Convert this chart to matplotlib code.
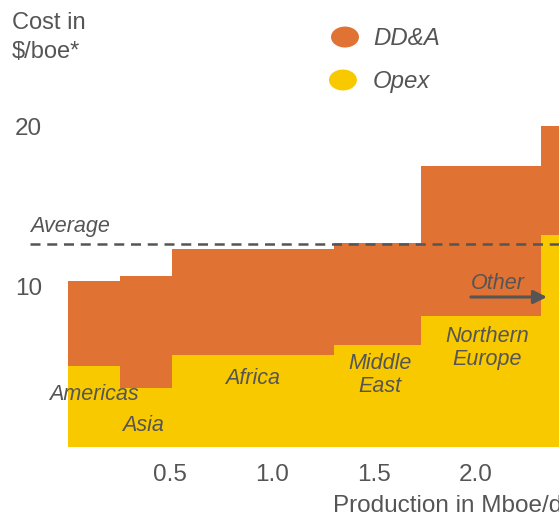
import numpy as np
import matplotlib.pyplot as plt
from matplotlib.patches import Ellipse

plt.rcParams['font.family'] = ['Liberation Sans', 'DejaVu Sans']

# regional cost curve: width = production, height = cost per boe
regions = ["Americas", "Asia", "Africa", "Middle\nEast", "Northern\nEurope", "Other"]
production = [0.255, 0.255, 0.794, 0.426, 0.589, 0.12]
opex = [5.06, 3.7, 5.75, 6.37, 8.19, 13.25]
dda = [5.3, 7.0, 6.6, 6.4, 9.4, 6.8]
average = 12.7

xticks = [0.5, 1.0, 1.5, 2.0]
yticks = [10, 20]

orange = '#E07233'
yellow = '#F9C900'
grey = '#555555'

left = np.concatenate([[0], np.cumsum(production)[:-1]])

fig = plt.figure(figsize=(5.59, 5.16), dpi=100)
ax = fig.add_axes([0, 0, 1, 1])
ax.set_xlim(-0.333, 2.407)
ax.set_ylim(-4.3125, 27.94)
ax.axis('off')

ax.bar(left, opex, width=production, align='edge', color=yellow, linewidth=0)
ax.bar(left, dda, width=production, bottom=opex, align='edge', color=orange, linewidth=0)

# average cost line
ax.plot([-0.186, 2.41], [average, average], color=grey, lw=1.8,
        dashes=(4, 2.7), zorder=3)
ax.text(-0.186, 13.44, "Average", style='italic', fontsize=15.5, color=grey)

# axis texts
for t in xticks:
    ax.text(t, -2.125, f"{t:.1f}", ha='center', va='baseline', fontsize=17.5, color=grey)
for t in yticks:
    ax.text(-0.26, t - 0.5, str(t), ha='left', va='baseline', fontsize=17.5, color=grey)
ax.text(-0.2745, 26.1, "Cost in", fontsize=17, color=grey, va='baseline')
ax.text(-0.2745, 24.3, "$/boe*", fontsize=17, color=grey, va='baseline')
ax.text(1.3, -4.06, "Production in Mboe/d", fontsize=17.5, color=grey, va='baseline')

# legend
ax.add_patch(Ellipse((1.358, 25.625), 0.137, 1.31, color=orange, lw=0))
ax.add_patch(Ellipse((1.348, 22.94), 0.137, 1.31, color=yellow, lw=0))
ax.text(1.495, 25.125, "DD&A", style='italic', fontsize=17.3, color=grey, va='baseline')
ax.text(1.495, 22.44, "Opex", style='italic', fontsize=17.3, color=grey, va='baseline')

# region labels
label_pos = [(0.127, 3.3), (0.368, 1.35), (0.907, 4.3), (1.529, 4.5), (2.054, 6.2)]
for name, (x, y) in zip(regions[:-1], label_pos):
    ax.text(x, y, name, ha='center', va='center', style='italic', fontsize=15.5,
            color=grey, linespacing=1.15)

ax.text(2.108, 9.875, "Other", ha='center', va='baseline', style='italic',
        fontsize=15.5, color=grey)
ax.annotate("", xy=(2.348, 9.375), xytext=(1.975, 9.375),
            arrowprops=dict(arrowstyle='-|>,head_length=0.8,head_width=0.4',
                            color=grey, lw=2.2, shrinkA=0, shrinkB=0))

fig.savefig("out.png", dpi=100)
